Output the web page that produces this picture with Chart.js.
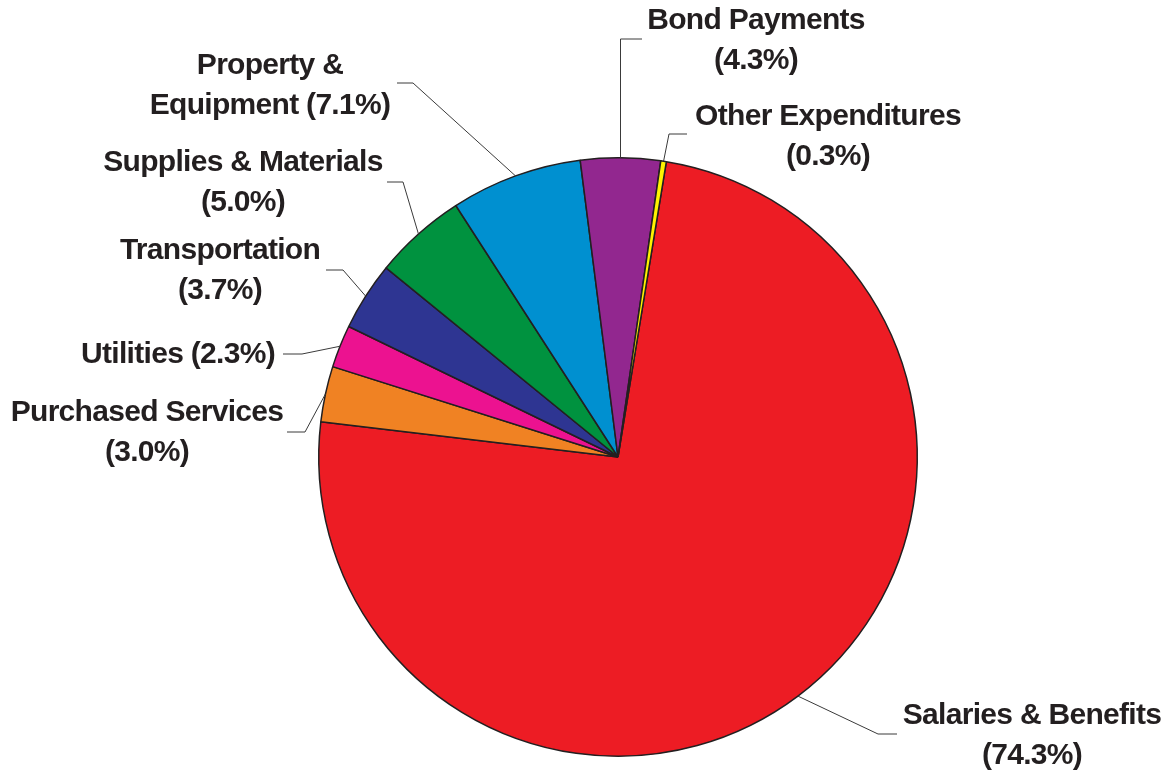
<!DOCTYPE html>
<html>
<head>
<meta charset="utf-8">
<script src="https://cdn.jsdelivr.net/npm/chart.js@4"></script>
<style>
  html, body { margin: 0; padding: 0; background: #ffffff; }
  #wrap { width: 1165px; height: 772px; }
</style>
</head>
<body>
<div id="wrap"><canvas id="c" width="1165" height="772"></canvas></div>
<script>
// ---- data ----
const categories = [
  "Salaries & Benefits",
  "Purchased Services",
  "Utilities",
  "Transportation",
  "Supplies & Materials",
  "Property & Equipment",
  "Bond Payments",
  "Other Expenditures"
];
const values = [74.3, 3.0, 2.3, 3.7, 5.0, 7.1, 4.3, 0.3];
const colors = ["#ED1C24", "#F08223", "#EC1290", "#2E3592", "#00923F", "#0090D0", "#92278F", "#FFF200"];

// ---- label layout (leader elbow, leader end, text centre, words on first line) ----
const labelLayout = [
  { elbow: [878, 734], end: [897, 734], tx: 1032, ty: 716, split: 3 },
  { elbow: [305, 432], end: [287, 432], tx: 147, ty: 413, split: 2 },
  { elbow: [302, 354], end: [283, 354], tx: 178, ty: 355, split: 99 },
  { elbow: [343, 270], end: [326, 270], tx: 220, ty: 251, split: 1 },
  { elbow: [403, 182], end: [387, 182], tx: 243, ty: 163, split: 3 },
  { elbow: [413, 83],  end: [397, 83],  tx: 270, ty: 66,  split: 2 },
  { elbow: [623, 39],  end: [642, 39],  tx: 756, ty: 21,  split: 2, vertical: true },
  { elbow: [669, 134], end: [687, 134], tx: 828, ty: 117, split: 2 }
];

const TEXT_COLOR = "#231F20";
const FONT = "bold 30px 'Liberation Sans', Arial, sans-serif";
const LINE_GAP = 40;

const leaderPlugin = {
  id: "leaders",
  afterDatasetsDraw(chart) {
    const ctx = chart.ctx;
    const meta = chart.getDatasetMeta(0);
    ctx.save();
    meta.data.forEach((arc, i) => {
      const L = labelLayout[i];
      const p = arc.getProps(["x", "y", "startAngle", "endAngle", "outerRadius"], true);
      const mid = (p.startAngle + p.endAngle) / 2;
      const sx = p.x + Math.cos(mid) * p.outerRadius;
      const sy = p.y + Math.sin(mid) * p.outerRadius;
      ctx.strokeStyle = "#3a3a3a";
      ctx.lineWidth = 1;
      ctx.beginPath();
      ctx.moveTo(sx, sy);
      if (L.vertical) {
        ctx.lineTo(sx, L.elbow[1]);
        ctx.lineTo(L.end[0], L.end[1]);
      } else {
        ctx.lineTo(L.elbow[0], L.elbow[1]);
        ctx.lineTo(L.end[0], L.end[1]);
      }
      ctx.stroke();

      const full = categories[i] + " (" + values[i].toFixed(1) + "%)";
      const words = full.split(" ");
      const lines = L.split >= words.length ? [full] :
        [words.slice(0, L.split).join(" "), words.slice(L.split).join(" ")];
      ctx.fillStyle = TEXT_COLOR;
      ctx.font = FONT;
      try { ctx.letterSpacing = "-0.7px"; } catch (e) {}
      ctx.textAlign = "center";
      ctx.textBaseline = "middle";
      lines.forEach((t, k) => {
        ctx.fillText(t, L.tx, L.ty + k * LINE_GAP);
      });
    });
    ctx.restore();
  }
};

new Chart(document.getElementById("c"), {
  type: "pie",
  data: {
    labels: categories,
    datasets: [{
      data: values,
      backgroundColor: colors,
      borderColor: "#231F20",
      borderWidth: 1.5
    }]
  },
  options: {
    responsive: false,
    devicePixelRatio: 1,
    animation: false,
    rotation: 9.3,
    layout: { padding: { left: 318, right: 247, top: 157, bottom: 15 } },
    plugins: {
      legend: { display: false },
      tooltip: { enabled: false }
    }
  },
  plugins: [leaderPlugin]
});
</script>
</body>
</html>
